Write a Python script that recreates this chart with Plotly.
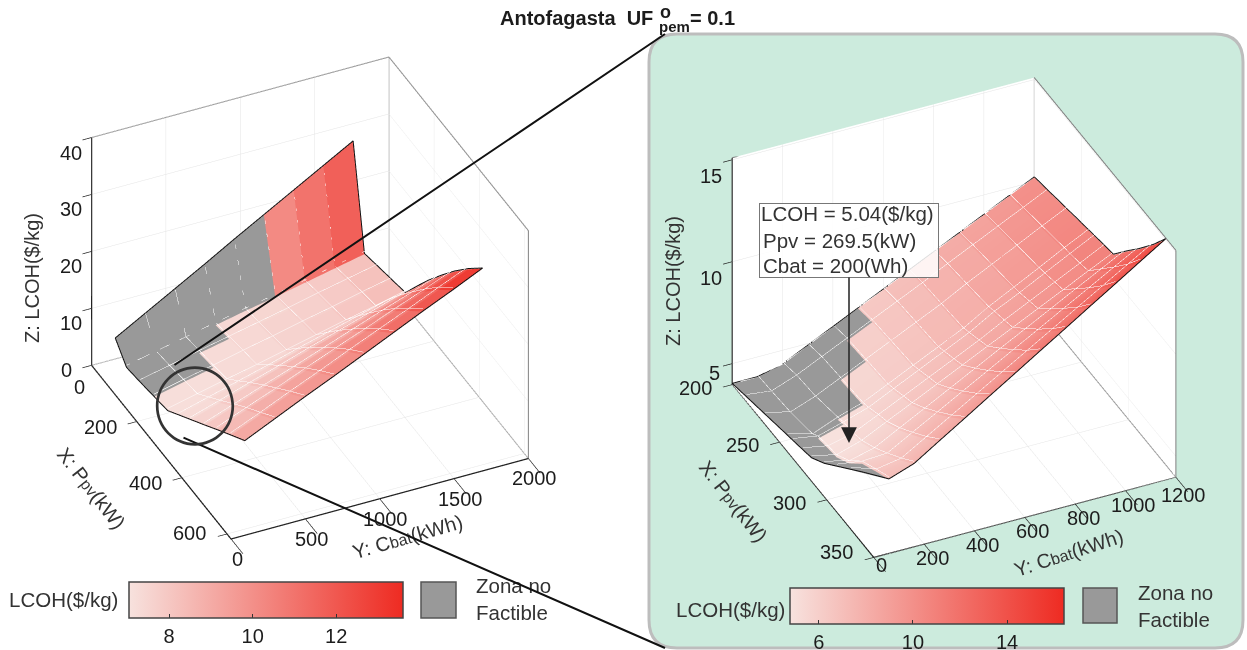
import plotly.graph_objects as go

# ---------- left chart data ----------
L_X = [39, 89, 148, 210, 271, 321, 371, 433, 488, 550, 613]
L_Y = [100, 300, 500, 700, 900, 1100, 1300, 1500, 1700]
L_Z = [
    [5.9, 3.2, 3.6, 4.1, 4.6, 6.3, 8.0, 10.1, 12.0, 14.1, 16.2],
    [8.8, 4.3, 4.7, 5.3, 5.8, 7.7, 9.6, 12.0, 14.1, 16.3, 18.6],
    [11.7, 5.4, 5.9, 6.4, 7.0, 9.1, 11.3, 13.9, 16.1, 18.6, 21.0],
    [14.6, 6.5, 7.0, 7.6, 8.1, 10.5, 12.9, 15.7, 18.2, 20.8, 23.3],
    [17.6, 7.6, 8.1, 8.7, 9.3, 12.0, 14.6, 17.6, 20.3, 23.1, 25.7],
    [20.5, 8.6, 9.2, 9.9, 10.5, 13.4, 16.2, 19.5, 22.3, 25.3, 28.1],
    [23.4, 9.7, 10.4, 11.0, 11.7, 14.8, 17.8, 21.4, 24.4, 27.5, 30.5],
    [26.3, 10.8, 11.5, 12.2, 12.8, 16.2, 19.5, 23.2, 26.4, 29.8, 32.8],
    [29.2, 11.9, 12.6, 13.3, 14.0, 17.6, 21.1, 25.1, 28.5, 32.0, 35.2],
]
L_LCOH = [
    [7.2, 7.1, 7.1, 7.2, 7.2, 7.3, 7.6, 8.0, 8.5, 9.1],
    [7.2, 7.2, 7.2, 7.2, 7.3, 7.5, 7.9, 8.4, 8.9, 9.4],
    [7.3, 7.3, 7.3, 7.3, 7.4, 7.7, 8.2, 8.8, 9.3, 9.7],
    [7.4, 7.4, 7.4, 7.4, 7.5, 8.0, 8.6, 9.2, 9.7, 10.1],
    [7.5, 7.5, 7.6, 7.6, 7.7, 8.3, 9.0, 9.6, 10.2, 10.6],
    [10.2, 7.7, 7.7, 7.8, 7.9, 8.6, 9.5, 10.1, 10.7, 11.2],
    [11.0, 7.9, 7.9, 8.0, 8.2, 9.0, 10.0, 10.7, 11.4, 12.0],
    [11.7, 8.2, 8.2, 8.3, 8.5, 9.5, 10.6, 11.4, 12.2, 13.0],
]
L_INFEASIBLE_COLS = [3, 3, 2, 1, 1, 0, 0, 0]
L_RANGE_X = [0, 618]
L_RANGE_Y = [0, 2000]
L_RANGE_Z = [0, 40]
L_TICKS_X = [0, 200, 400, 600]
L_TICKS_Y = [0, 500, 1000, 1500, 2000]
L_TICKS_Z = [0, 10, 20, 30, 40]
L_CBAR_RANGE = [7.04, 13.6]
L_CBAR_TICKS = [8, 10, 12]

# ---------- right chart data ----------
R_X = [200, 215, 235, 258.5, 264.5, 275, 284, 297.5, 311, 326, 339.5]
R_Y = [0, 100, 200, 300, 400, 500, 600, 700, 800, 900, 1000, 1100, 1200]
R_Z = [
    [4.0, 4.2, 4.46, 4.77, 4.84, 4.98, 5.1, 5.59, 6.21, 6.9, 7.52],
    [4.0, 4.05, 4.15, 4.4, 4.64, 4.75, 4.82, 5.29, 6.03, 6.49, 6.87],
    [4.3, 4.5, 4.6, 4.9, 5.0, 5.05, 5.2, 5.6, 6.1, 6.7, 7.3],
    [4.89, 5.08, 5.18, 5.29, 5.39, 5.63, 5.8, 6.25, 6.79, 7.43, 8.08],
    [5.48, 5.66, 5.76, 5.87, 5.98, 6.21, 6.39, 6.89, 7.47, 8.16, 8.85],
    [6.07, 6.24, 6.34, 6.46, 6.57, 6.8, 6.99, 7.54, 8.16, 8.89, 9.63],
    [6.66, 6.82, 6.92, 7.04, 7.16, 7.38, 7.58, 8.19, 8.84, 9.62, 10.4],
    [7.25, 7.4, 7.5, 7.63, 7.75, 7.97, 8.18, 8.84, 9.53, 10.35, 11.18],
    [7.84, 8.01, 8.16, 8.35, 8.46, 8.62, 8.77, 9.48, 10.21, 11.08, 11.95],
    [8.43, 8.6, 8.77, 8.98, 9.05, 9.22, 9.37, 10.13, 10.9, 11.81, 12.73],
    [9.02, 9.19, 9.38, 9.61, 9.68, 9.83, 9.96, 10.78, 11.58, 12.54, 13.5],
    [9.61, 9.78, 10.0, 10.26, 10.31, 10.43, 10.56, 11.42, 12.27, 13.27, 14.28],
    [10.2, 10.37, 10.6, 10.87, 10.93, 11.05, 11.15, 12.07, 12.95, 14.0, 15.05],
]
R_INFEASIBLE_COLS = [10, 4, 3, 2, 1, 0, 0, 0, 0, 0, 0, 0]
R_RANGE_X = [200, 350]
R_RANGE_Y = [0, 1200]
R_RANGE_Z = [3.97, 15.1]
R_TICKS_X = [200, 250, 300, 350]
R_TICKS_Y = [0, 200, 400, 600, 800, 1000, 1200]
R_TICKS_Z = [5, 10, 15]
R_CBAR_RANGE = [4.75, 16.4]
R_CBAR_TICKS = [6, 10, 14]

# ---------- text ----------
COLORSCALE = [[0, "#F7E2DE"], [1, "#EE2B22"]]
GRAY = "#999999"
FONT = "Liberation Sans"
INK = "#1c1c1c"
W, H = 1247, 650


def fx(v):
    return v / W


def fy(v):
    return 1 - v / H


def surface_traces(X, Y, Z, colors, infeasible, scene, crange, zrange, cbar_x, cbar_y, ticks):
    """colors: per-cell table, or None: each row band takes the mean Z of its two edges."""
    nr, nc = len(Y), len(X)
    vx, vy, vz, vint = [], [], [], []
    ci, cj, ck, cint = [], [], [], []
    gi, gj, gk = [], [], []
    for r in range(nr - 1):
        base = len(vx)
        for c in range(nc):
            vx += [X[c], X[c]]
            vy += [Y[r], Y[r + 1]]
            vz += [Z[r][c], Z[r + 1][c]]
            vint += [(Z[r][c] + Z[r + 1][c]) / 2] * 2
        for c in range(nc - 1):
            a, d = base + 2 * c, base + 2 * c + 1
            b, e = base + 2 * c + 2, base + 2 * c + 3
            if c < infeasible[r]:
                gi += [a, a]; gj += [b, e]; gk += [e, d]
            else:
                ci += [a, a]; cj += [b, e]; ck += [e, d]
                if colors is not None:
                    cint += [colors[r][c]] * 2
    flat = dict(ambient=1, diffuse=0, specular=0, roughness=1, fresnel=0)
    mesh = dict(x=vx, y=vy, z=vz, i=ci, j=cj, k=ck, colorscale=COLORSCALE,
                cmin=crange[0], cmax=crange[1], lighting=flat, flatshading=True,
                hoverinfo="skip", scene=scene, showscale=True,
                colorbar=dict(orientation="h", lenmode="pixels", len=274, thickness=36,
                              x=fx(cbar_x), xanchor="center", y=fy(cbar_y), yanchor="top",
                              xpad=0, ypad=0, tickmode="array", tickvals=ticks, ticks="inside",
                              ticklen=4, tickcolor="#333", outlinecolor="#444", outlinewidth=1.5,
                              tickfont=dict(family=FONT, size=20, color=INK)))
    if colors is None:
        mesh["intensity"] = vint
    else:
        mesh["intensity"] = cint
        mesh["intensitymode"] = "cell"
    traces = [go.Mesh3d(**mesh),
              go.Mesh3d(x=vx, y=vy, z=vz, i=gi, j=gj, k=gk, color=GRAY, lighting=flat,
                        flatshading=True, hoverinfo="skip", scene=scene, showscale=False)]
    span = zrange[1] - zrange[0]
    lift, grid_lift = 0.003 * span, 0.012 * span  # keep the edge lines clear of the faces
    # inner cell edges
    gx, gy, gz = [], [], []
    for r in range(1, nr - 1):
        gx += list(X) + [None]; gy += [Y[r]] * nc + [None]
        gz += [v + grid_lift for v in Z[r]] + [None]
    for c in range(1, nc - 1):
        gx += [X[c]] * nr + [None]; gy += list(Y) + [None]
        gz += [Z[r][c] + grid_lift for r in range(nr)] + [None]
    traces.append(go.Scatter3d(x=gx, y=gy, z=gz, mode="lines", hoverinfo="skip", scene=scene,
                               line=dict(color="rgba(255,255,255,0.28)", width=1), showlegend=False))
    # outline
    ox = list(X) + [X[-1]] * nr + list(X)[::-1] + [X[0]] * nr
    oy = [Y[0]] * nc + list(Y) + [Y[-1]] * nc + list(Y)[::-1]
    oz = list(Z[0]) + [Z[r][-1] for r in range(nr)] + list(Z[-1])[::-1] + [Z[r][0] for r in range(nr)][::-1]
    traces.append(go.Scatter3d(x=ox, y=oy, z=[v + lift for v in oz], mode="lines", hoverinfo="skip",
                               scene=scene, line=dict(color="#111", width=2), showlegend=False))
    return traces


def box_traces(rx, ry, rz, scene):
    x0, x1 = rx; y0, y1 = ry; z0, z1 = rz
    ex = [x0, x0, x1, x1, x0, x0, None, x0, x0]
    ey = [y0, y1, y1, y1, y1, y0, None, y1, y1]
    ez = [z1, z1, z1, z0, z0, z0, None, z1, z0]
    gray = go.Scatter3d(x=ex, y=ey, z=ez, mode="lines", hoverinfo="skip", scene=scene,
                        line=dict(color="#808080", width=2), showlegend=False)
    black = go.Scatter3d(x=[x0, x0, x1, x1], y=[y0, y0, y0, y1], z=[z1, z0, z0, z0], mode="lines",
                         hoverinfo="skip", scene=scene, line=dict(color="#222", width=2.5),
                         showlegend=False)
    return [gray, black]


def axis(rng, ticks, ticklen):
    return dict(range=rng, tickmode="array", tickvals=ticks, showticklabels=True,
                tickfont=dict(size=1, color="rgba(0,0,0,0)"),
                ticks="outside", ticklen=ticklen, tickwidth=1.5, tickcolor="#222",
                title=dict(text=""), gridcolor="#E4E4E4", gridwidth=1,
                showline=True, linecolor="#222", linewidth=1.5, zeroline=False,
                showbackground=True, backgroundcolor="white", showspikes=False, autorange=False)


def tick_notes(vals, where, shift, over=None):
    out = []
    for v in vals:
        sx, sy = (over or {}).get(v, shift)
        p = where(v)
        out.append(dict(x=p[0], y=p[1], z=p[2], text=str(v), showarrow=False, xshift=sx, yshift=-sy,
                        font=dict(family=FONT, size=20, color=INK)))
    return out


fig = go.Figure()
fig.add_traces(surface_traces(L_X, L_Y, L_Z, L_LCOH, L_INFEASIBLE_COLS, "scene",
                              L_CBAR_RANGE, L_RANGE_Z, 266, 582, L_CBAR_TICKS))
fig.add_traces(box_traces(L_RANGE_X, L_RANGE_Y, L_RANGE_Z, "scene"))
fig.add_traces(surface_traces(R_X, R_Y, R_Z, None, R_INFEASIBLE_COLS, "scene2",
                              R_CBAR_RANGE, R_RANGE_Z, 926.5, 588, R_CBAR_TICKS))
fig.add_traces(box_traces(R_RANGE_X, R_RANGE_Y, R_RANGE_Z, "scene2"))

l_notes = (
    tick_notes(L_TICKS_X, lambda v: (v, L_RANGE_Y[0], L_RANGE_Z[0]), (-36, 5), {0: (-12, 22), 600: (-37, -1)})
    + tick_notes(L_TICKS_Y, lambda v: (L_RANGE_X[1], v, L_RANGE_Z[0]), (6, 20))
    + tick_notes(L_TICKS_Z, lambda v: (L_RANGE_X[0], L_RANGE_Y[0], v), (-21, 15), {0: (-25, 5)})
)
r_notes = (
    tick_notes(R_TICKS_X, lambda v: (v, R_RANGE_Y[0], R_RANGE_Z[0]), (-37, 3), {350: (-37, -5)})
    + tick_notes(R_TICKS_Y, lambda v: (R_RANGE_X[1], v, R_RANGE_Z[0]), (8, 14), {0: (8, 8), 1200: (8, 18)})
    + tick_notes(R_TICKS_Z, lambda v: (R_RANGE_X[0], R_RANGE_Y[0], v), (-21, 16), {5: (-18, 9)})
)

L_AXES = dict(aspectmode="manual", aspectratio=dict(x=1.1075, y=1.101, z=0.939))
R_AXES = dict(aspectmode="manual", aspectratio=dict(x=1.055, y=1.05, z=0.869))


def paper_text(x, y, text, size=20, angle=0, color=INK, xanchor="center", **kw):
    return dict(x=fx(x), y=fy(y), xref="paper", yref="paper", text=text, showarrow=False,
                textangle=angle, xanchor=xanchor, yanchor="middle",
                font=dict(family=FONT, size=size, color=color), **kw)


def paper_line(x0, y0, x1, y1):
    return dict(x=fx(x1), y=fy(y1), xref="paper", yref="paper", ax=x0 - x1, ay=y0 - y1,
                axref="pixel", ayref="pixel", text="", showarrow=True, arrowhead=0,
                arrowwidth=2, arrowcolor="#111")


SMALL = '<span style="font-size:16px">%s</span>'
annotations = [
    paper_text(498, 18, "<b>Antofagasta  UF</b>", xanchor="left"),
    paper_text(658, 12, "<b>o</b>", size=18, xanchor="left"),
    paper_text(657, 26, "<b>pem</b>", size=15, xanchor="left"),
    paper_text(688, 18, "<b>= 0.1</b>", xanchor="left"),
    paper_text(32, 278, "Z: LCOH($/kg)", angle=-90, color="#333"),
    paper_text(91, 488, "X: P" + SMALL % "pv" + "(kW)", angle=52, color="#333"),
    paper_text(407, 537, "Y: C" + SMALL % "bat" + "(kWh)", angle=-16, color="#333"),
    paper_text(673, 281, "Z: LCOH($/kg)", angle=-90, color="#333"),
    paper_text(733, 501, "X: P" + SMALL % "pv" + "(kW)", angle=52, color="#333"),
    paper_text(1068, 553, "Y: C" + SMALL % "bat" + "(kWh)", angle=-18, color="#333"),
    paper_text(63, 599, "LCOH($/kg)", size=20.5, color="#333"),
    paper_text(730, 609, "LCOH($/kg)", size=20.5, color="#333"),
    paper_text(474, 599, "Zona no<br>Factible", size=20.5, color="#333", align="left", xanchor="left"),
    paper_text(1136, 606, "Zona no<br>Factible", size=20.5, color="#333", align="left", xanchor="left"),
    paper_line(173, 366, 665, 34),
    paper_line(182, 437, 665, 648),
    dict(x=fx(195), y=fy(401), xref="paper", yref="paper", text="◯", showarrow=False,
         xanchor="center", yanchor="middle",
         font=dict(family="Noto Sans CJK JP", size=84, color="#333")),
    dict(x=fx(849), y=fy(443), xref="paper", yref="paper", ax=0, ay=-202.5,
         text=" ", font=dict(family=FONT, size=10), bgcolor="rgba(255,255,255,0.85)",
         bordercolor="#777", borderwidth=1, borderpad=0, width=178, height=73,
         showarrow=True, arrowhead=2, arrowsize=2.1, arrowwidth=1.5, arrowcolor="#222"),
    paper_text(759, 213, "LCOH = 5.04($/kg)", size=20.5, color="#333", xanchor="left"),
    paper_text(761, 240, "Ppv = 269.5(kW)", size=20.5, color="#333", xanchor="left"),
    paper_text(761, 265, "Cbat = 200(Wh)", size=20.5, color="#333", xanchor="left"),
]


def rounded(x0, y0, x1, y1, r):
    c = lambda x, y: f"{fx(x)},{fy(y)}"
    return (f"M{c(x0 + r, y0)} L{c(x1 - r, y0)} Q{c(x1, y0)} {c(x1, y0 + r)} L{c(x1, y1 - r)} "
            f"Q{c(x1, y1)} {c(x1 - r, y1)} L{c(x0 + r, y1)} Q{c(x0, y1)} {c(x0, y1 - r)} "
            f"L{c(x0, y0 + r)} Q{c(x0, y0)} {c(x0 + r, y0)} Z")


shapes = [
    dict(type="path", xref="paper", yref="paper", path=rounded(649, 34, 1243, 648, 28),
         fillcolor="#CCEBDD", line=dict(color="#BDBDBD", width=3), layer="below"),
    dict(type="rect", xref="paper", yref="paper", x0=fx(421), x1=fx(456), y0=fy(582), y1=fy(618),
         fillcolor=GRAY, line=dict(color="#555", width=1.5)),
    dict(type="rect", xref="paper", yref="paper", x0=fx(1083), x1=fx(1117), y0=fy(588), y1=fy(623),
         fillcolor=GRAY, line=dict(color="#555", width=1.5)),
]

fig.update_layout(
    width=W, height=H, margin=dict(l=0, r=0, t=0, b=0, autoexpand=False), showlegend=False,
    paper_bgcolor="white", annotations=annotations, shapes=shapes,
    scene=dict(
        domain=dict(x=[0, 620 / W], y=[1 - 596 / H, 1]), bgcolor="rgba(0,0,0,0)",
        xaxis=axis(L_RANGE_X, L_TICKS_X, 28), yaxis=axis(L_RANGE_Y, L_TICKS_Y, 10),
        zaxis=axis(L_RANGE_Z, L_TICKS_Z, 3), annotations=l_notes,
        camera=dict(projection=dict(type="orthographic"), center=dict(x=0, y=0, z=0),
                    up=dict(x=0, y=0, z=1), eye=dict(x=0.7377, y=-0.344, z=0.5805)),
        **L_AXES),
    scene2=dict(
        domain=dict(x=[661 / W, 1], y=[1 - 635 / H, 1]), bgcolor="rgba(0,0,0,0)",
        xaxis=axis(R_RANGE_X, R_TICKS_X, 28), yaxis=axis(R_RANGE_Y, R_TICKS_Y, 10),
        zaxis=axis(R_RANGE_Z, R_TICKS_Z, 3), annotations=r_notes,
        camera=dict(projection=dict(type="orthographic"), center=dict(x=0, y=0, z=0),
                    up=dict(x=0, y=0, z=1), eye=dict(x=0.745, y=-0.3475, z=0.569)),
        **R_AXES),
)

fig.write_html("out.html", config=dict(displayModeBar=False),
               post_script="document.body.style.margin='0';")
